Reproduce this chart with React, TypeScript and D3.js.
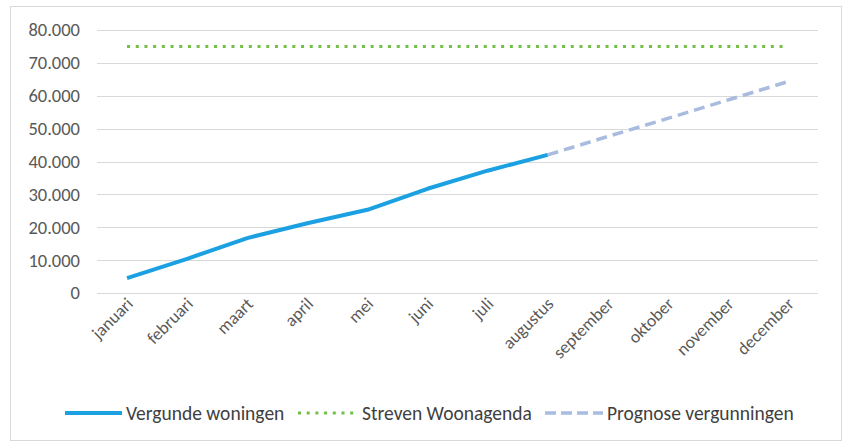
import React, { useEffect, useRef } from "react";
import * as d3 from "d3";

const months = ["januari", "februari", "maart", "april", "mei", "juni", "juli", "augustus", "september", "oktober", "november", "december"];
// vergunde woningen (jan t/m aug)
const vergund = [4500, 10400, 16700, 21200, 25300, 31700, 37200, 42000];
// prognose (aug t/m dec)
const prognoseMonths = ["augustus", "september", "oktober", "november", "december"];
const prognose = [42000, 47600, 53100, 58700, 64300];
const streven = 75000;
const yTicks = [0, 10000, 20000, 30000, 40000, 50000, 60000, 70000, 80000];

const width = 843, height = 443;

export default function App() {
  const ref = useRef<SVGSVGElement>(null);

  useEffect(() => {
    const svg = d3.select(ref.current);
    svg.selectAll("*").remove();
    const font = "Carlito, Lato, sans-serif";

    svg.append("rect")
      .attr("x", 10.5).attr("y", 6.5).attr("width", 831).attr("height", 434)
      .attr("fill", "#fff").attr("stroke", "#d9d9d9");

    const x = d3.scaleBand().domain(months).range([97, 818]);
    const y = d3.scaleLinear().domain([0, 80000]).range([293, 30]);
    const cx = (m: string) => (x(m) as number) + x.bandwidth() / 2;

    // grid
    svg.append("g").selectAll("line").data(yTicks).join("line")
      .attr("x1", 97).attr("x2", 818)
      .attr("y1", d => Math.round(y(d)) + 0.5).attr("y2", d => Math.round(y(d)) + 0.5)
      .attr("stroke", "#d9d9d9").attr("stroke-width", 1);

    const fmt = (d: number) => d === 0 ? "0" : d3.format(",")(d).replace(/,/g, ".");
    svg.append("g").selectAll("text").data(yTicks).join("text")
      .attr("x", 80).attr("y", d => y(d)).attr("dy", "0.35em")
      .attr("text-anchor", "end").attr("font-family", font).attr("font-size", 18.5)
      .attr("fill", "#595959").text(d => fmt(d));

    svg.append("g").selectAll("text").data(months).join("text")
      .attr("transform", d => `translate(${cx(d) + 7},${305}) rotate(-45)`)
      .attr("text-anchor", "end").attr("font-family", font).attr("font-size", 17.5)
      .attr("fill", "#595959").text(d => d);

    const line = d3.line<[number, number]>().x(d => d[0]).y(d => d[1]);

    // streven
    svg.append("path")
      .attr("d", line([[cx(months[0]), y(streven)], [cx(months[11]), y(streven)]]))
      .attr("fill", "none").attr("stroke", "#70c044").attr("stroke-width", 3)
      .attr("stroke-dasharray", "3 5.7");

    // prognose
    svg.append("path")
      .attr("d", line(prognose.map((v, i) => [cx(prognoseMonths[i]), y(v)] as [number, number])))
      .attr("fill", "none").attr("stroke", "#a9bcdf").attr("stroke-width", 3.5)
      .attr("stroke-dasharray", "11 6");

    // vergund
    svg.append("path")
      .attr("d", line(vergund.map((v, i) => [cx(months[i]), y(v)] as [number, number])))
      .attr("fill", "none").attr("stroke", "#1ba1e2").attr("stroke-width", 4)
      .attr("stroke-linejoin", "round");

    // legend
    const legend = [
      { label: "Vergunde woningen", x1: 65, x2: 122, color: "#1ba1e2", dash: null, w: 4 },
      { label: "Streven Woonagenda", x1: 298, x2: 355, color: "#70c044", dash: "3 5.7", w: 3 },
      { label: "Prognose vergunningen", x1: 545, x2: 603, color: "#a9bcdf", dash: "11 5", w: 3.5 },
    ];
    const lg = svg.append("g");
    legend.forEach(l => {
      lg.append("line").attr("x1", l.x1).attr("x2", l.x2).attr("y1", 413).attr("y2", 413)
        .attr("stroke", l.color).attr("stroke-width", l.w)
        .attr("stroke-dasharray", l.dash);
      lg.append("text").attr("x", l.x2 + (l.dash === "3 5.7" ? 7 : 4)).attr("y", 413).attr("dy", "0.35em")
        .attr("font-family", font).attr("font-size", 19.5).attr("fill", "#404040").text(l.label);
    });
  }, []);

  return <svg ref={ref} width={width} height={height} style={{ position: "absolute", left: 0, top: 0 }}></svg>;
}
